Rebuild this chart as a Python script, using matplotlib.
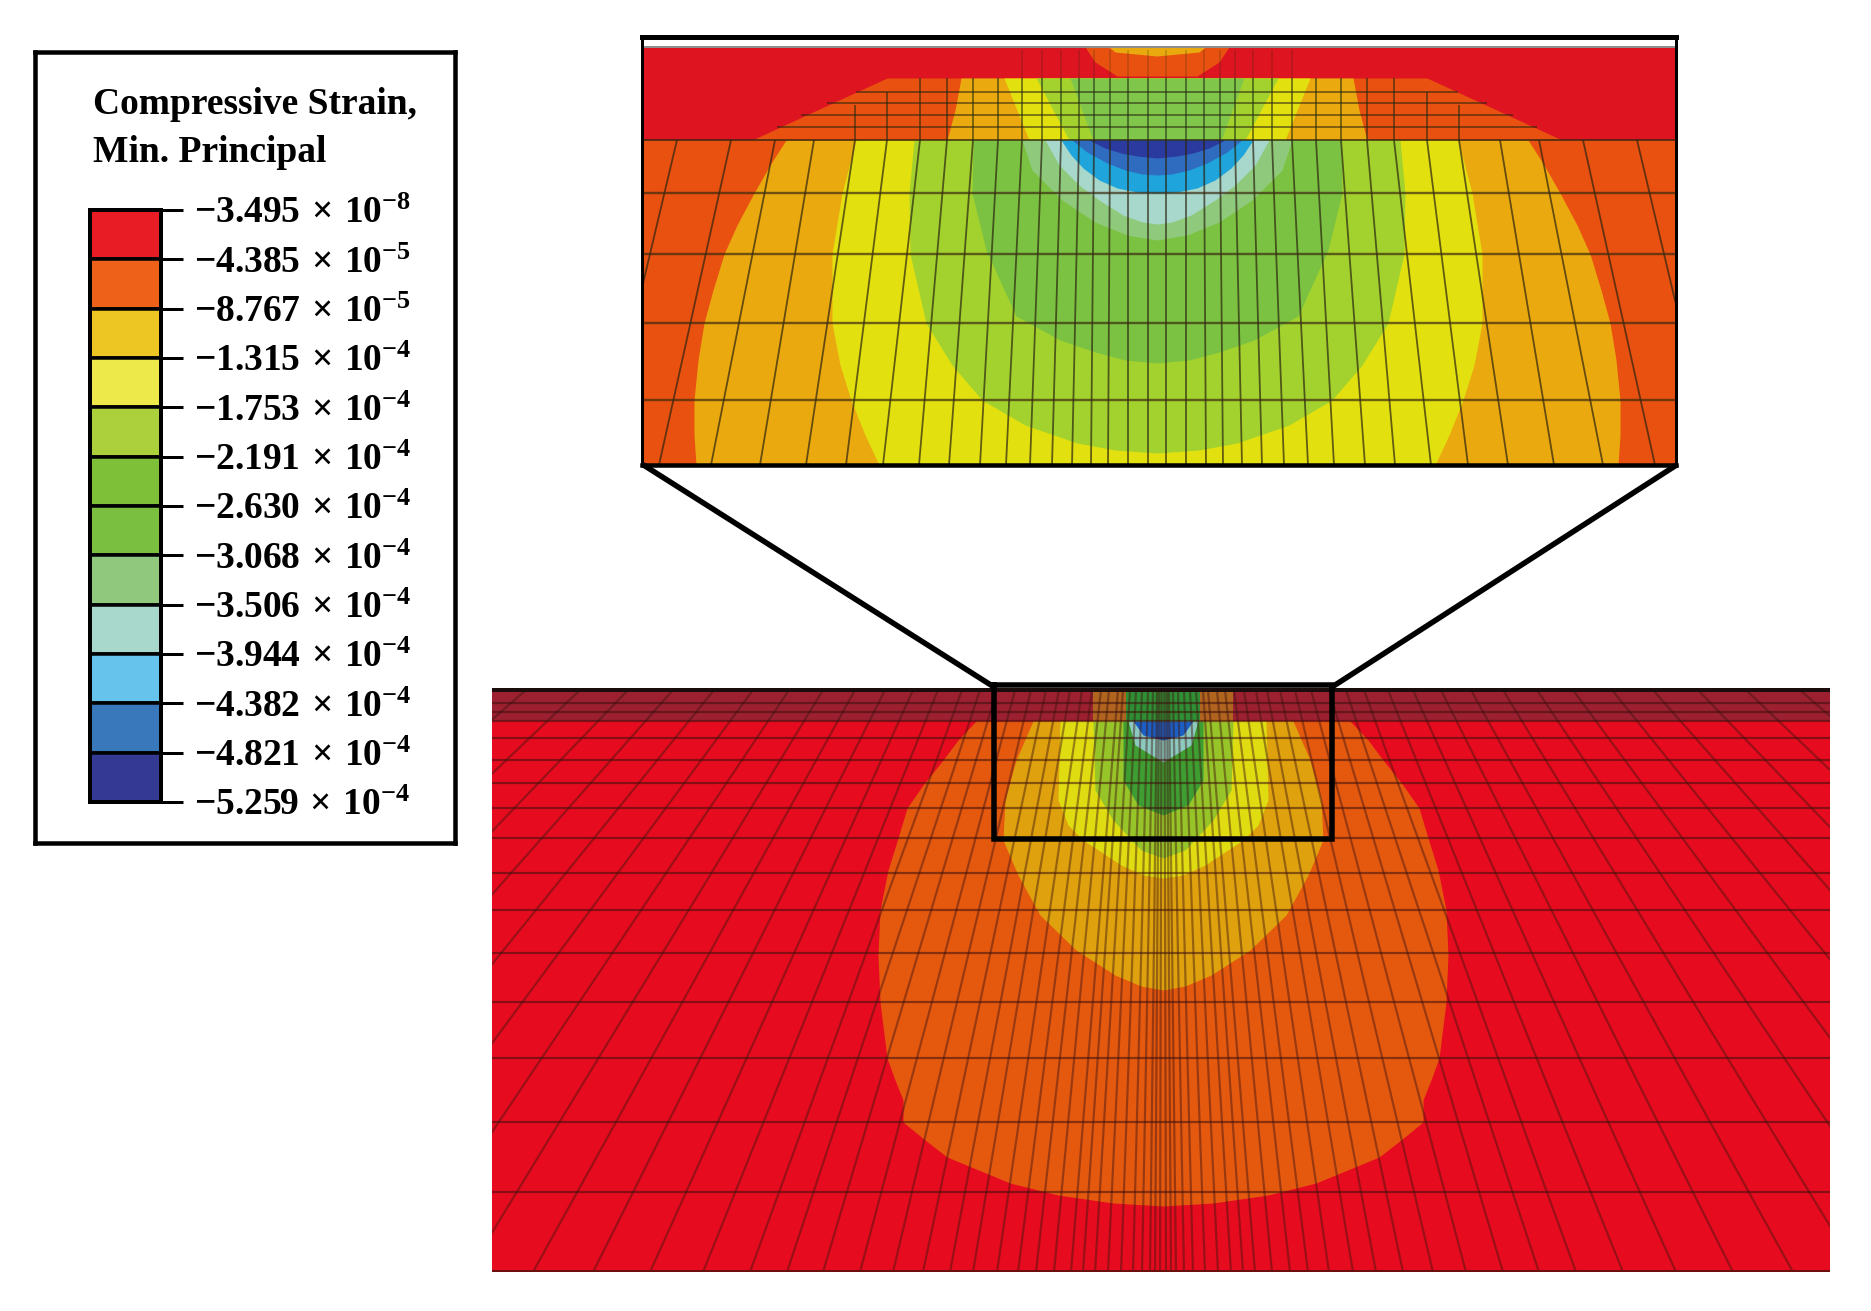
import matplotlib
matplotlib.use("Agg")
import matplotlib.pyplot as plt

W, H = 1871, 1311
plt.rcParams["font.family"] = ["Liberation Serif", "DejaVu Serif"]
plt.rcParams["mathtext.fontset"] = "custom"
plt.rcParams["mathtext.rm"] = "Liberation Serif:bold"
plt.rcParams["mathtext.bf"] = "Liberation Serif:bold"
plt.rcParams["mathtext.it"] = "Liberation Serif:bold"

# legend
title_lines = ["Compressive Strain,", "Min. Principal"]
mantissas = ["3.495", "4.385", "8.767", "1.315", "1.753", "2.191", "2.630",
             "3.068", "3.506", "3.944", "4.382", "4.821", "5.259"]
exponents = ["8", "5", "5", "4", "4", "4", "4", "4", "4", "4", "4", "4", "4"]
cell_colors = ["#e81c24", "#ee6118", "#eec624", "#eee94a", "#acd03c", "#7ec038",
               "#7abf40", "#90c97e", "#a8d8cc", "#66c4ec", "#3a78bc", "#343a94"]

# zoomed panel, contours as (depth, half width)
zoom_strip_bands = [
    ("#e8510f", [78, 140], [270, 405]),
    ("#eaa90f", [78, 110, 140], [196, 202, 210]),
    ("#e3e010", [78, 140], [153, 128]),
    ("#a3d22e", [78, 140], [121, 88]),
    ("#80c64a", [78, 140], [87, 64]),
]
zoom_cap_bands = [
    ("#e8510f", [47, 62, 76], [72, 62, 40]),
    ("#eaa90f", [47, 52, 56], [48, 42, 0]),
]
zoom_main_bands = [
    ("#eaa90f", [140, 165, 193, 225, 254, 290, 323, 360, 400, 435, 465],
     [371, 387, 403, 420, 433, 444, 453, 459, 463, 463, 461]),
    ("#e3e010", [140, 193, 254, 323, 365, 400, 435, 465],
     [301, 315, 325, 325, 317, 306, 292, 278]),
    ("#a3d22e", [140, 193, 254, 323, 365, 400, 425, 443, 450, 453],
     [243, 248, 247, 231, 205, 175, 132, 80, 42, 0]),
    ("#7cc242", [140, 193, 250, 316, 340, 352, 360, 363],
     [184, 185, 171, 141, 97, 62, 32, 0]),
]
zoom_blue_bands = [
    ("#8fca7c", [140, 170, 200, 222, 235, 240], [135, 125, 95, 62, 30, 0]),
    ("#a8d8cc", [140, 165, 185, 200, 215, 222, 224], [112, 98, 78, 58, 34, 15, 0]),
    ("#1fa5dc", [140, 155, 168, 180, 188, 192, 193], [96, 86, 74, 58, 40, 20, 0]),
    ("#2f6cc0", [140, 152, 163, 170, 174, 175], [85, 70, 50, 32, 15, 0]),
    ("#2a3a9e", [140, 148, 153, 156, 158], [68, 52, 36, 20, 0]),
]
zoom_lines_low = [557, 498, 446, 397, 351, 311, 274, 238, 208, 177, 151, 127, 105, 85, 66, 49, 29, 9]
zoom_lines_high = [480, 426, 382, 343, 302, 270, 237, 210, 184, 159, 135, 115, 96, 78, 63, 47, 29, 9]
zoom_main_rows = [193, 254, 323, 400]
zoom_strip_rows = [92, 103, 115, 127]
zoom_strip_row_half = [300, 329, 355, 379]
zoom_strip_cols = [302, 270, 237, 210, 184, 159, 135, 115, 96, 78, 63, 47, 29, 9]
zoom_strip_col_top = [105, 92, 78, 78, 78, 78, 50, 50, 50, 50, 50, 50, 50, 50]

# full panel, contours as (depth, half width)
full_bands = [
    ("#e5590f", [721, 740, 760, 785, 808, 838, 870, 910, 955, 1002, 1058, 1080, 1100, 1122, 1140, 1157, 1183, 1195, 1203, 1206],
     [187, 205, 220, 240, 256, 265, 275, 283, 285, 283, 276, 268, 260, 260, 238, 216, 153, 105, 50, 0]),
    ("#dfa20e", [721, 760, 800, 840, 875, 915, 950, 975, 986, 990], [130, 147, 158, 160, 145, 123, 87, 48, 22, 0]),
    ("#dfdc12", [721, 800, 825, 840, 865, 875, 878], [103, 105, 95, 80, 42, 20, 0]),
    ("#97c428", [721, 790, 820, 850, 858], [70, 68, 50, 22, 0]),
    ("#3f9e32", [721, 780, 805, 815], [40, 40, 25, 0]),
    ("#8ccac0", [721, 745, 762], [35, 28, 0]),
    ("#1c5fc4", [721, 735, 740], [30, 20, 0]),
]
full_top_bands = [
    ("#b0641e", [692, 721], [70, 70]),
    ("#2f8f35", [692, 721], [37, 37]),
]
full_rows = [703, 712, 721, 738, 760, 783, 808, 838, 873, 910, 953, 1002, 1058, 1122, 1192]
full_lines_low = [1305, 1195, 1095, 1005, 920, 840, 765, 695, 630, 570, 513, 460, 413, 376,
                  340, 303, 270, 240, 213, 190, 166, 145, 127, 109, 92, 80, 68, 55, 42, 30, 21, 13, 8, 3]
full_lines_high = [637, 583, 535, 490, 449, 410, 374, 340, 308, 278, 250, 225, 201, 183,
                   166, 148, 132, 117, 104, 93, 81, 71, 62, 54, 45, 40, 33, 27, 21, 15, 10, 6, 4, 1.5]

px = 0.72
fig = plt.figure(figsize=(W / 100, H / 100), dpi=100, facecolor="white")


def px_axes(x0, y0, x1, y1):
    ax = fig.add_axes([x0 / W, 1 - y1 / H, (x1 - x0) / W, (y1 - y0) / H])
    return ax


def fill_bands(ax, bands):
    for color, depth, half in bands:
        ax.fill_betweenx(depth, [-h for h in half], half, color=color, lw=0)


def mirrored(ax, low, high, y_low, y_high, color, lw, alpha):
    for a, b in zip(low, high):
        ax.plot([-a, -b], [y_low, y_high], color=color, lw=lw, alpha=alpha, solid_capstyle="butt")
        ax.plot([a, b], [y_low, y_high], color=color, lw=lw, alpha=alpha, solid_capstyle="butt")


# legend box
ax_box = px_axes(35, 52, 455, 843)
ax_box.set_xticks([])
ax_box.set_yticks([])
for s in ax_box.spines.values():
    s.set_linewidth(4.5 * px)
fig.text(93 / W, 1 - 114 / H, title_lines[0], fontsize=27, fontweight="bold", va="baseline")
fig.text(93 / W, 1 - 162 / H, title_lines[1], fontsize=27, fontweight="bold", va="baseline")

# colour bar
ax_cb = px_axes(90, 210, 161, 802)
ax_cb.bar([0] * 12, [1] * 12, width=1, bottom=range(12), color=cell_colors, edgecolor="black", linewidth=3.5 * px)
ax_cb.set_xlim(-0.5, 0.5)
ax_cb.set_ylim(12, 0)
ax_cb.set_xticks([])
ax_cb.yaxis.tick_right()
ax_cb.set_yticks(range(13))
ax_cb.set_yticklabels(
    [rf"$-\mathbf{{{m}}}\,\times\,\mathbf{{10}}^{{-\mathbf{{{e}}}}}$" for m, e in zip(mantissas, exponents)],
    fontsize=27)
ax_cb.tick_params(axis="y", length=22 * px, width=3 * px, pad=8)
for s in ax_cb.spines.values():
    s.set_linewidth(4 * px)

# zoomed panel
ax_z = px_axes(642, 37, 1676, 465)
ax_z.set_xlim(-515, 519)
ax_z.set_ylim(465, 37)
ax_z.axhspan(47, 140, color="#de1520", lw=0)
ax_z.axhspan(140, 465, color="#e8510f", lw=0)
fill_bands(ax_z, zoom_cap_bands)
fill_bands(ax_z, zoom_strip_bands)
fill_bands(ax_z, zoom_main_bands)
fill_bands(ax_z, zoom_blue_bands)
mirrored(ax_z, zoom_lines_low, zoom_lines_high, 465, 140, "#2b2410", 1.8 * px, 0.7)
for y in zoom_main_rows:
    ax_z.axhline(y, color="#3b2a10", lw=2.4 * px, alpha=0.7)
ax_z.axhline(140, color="#2b2410", lw=2 * px, alpha=0.7)
for y, half in zip(zoom_strip_rows, zoom_strip_row_half):
    ax_z.plot([-half, half], [y, y], color="#2b2410", lw=2 * px, alpha=0.55)
for off, top in zip(zoom_strip_cols, zoom_strip_col_top):
    if top > 60:
        mirrored(ax_z, [off], [off], 140, top, "#1f2a10", 1.8 * px, 0.6)
    else:
        mirrored(ax_z, [off], [off], 140, 78, "#1f2a10", 1.8 * px, 0.6)
        mirrored(ax_z, [off], [off], 78, top, "#1f2a10", 1.8 * px, 0.2)
ax_z.axhspan(37, 47, color="white", lw=0)
ax_z.axhline(47, color="#8f8f8f", lw=2 * px)
ax_z.set_xticks([])
ax_z.set_yticks([])
ax_z.spines["top"].set_linewidth(5 * px)
ax_z.spines["bottom"].set_linewidth(4.5 * px)
ax_z.spines["left"].set_linewidth(3 * px)
ax_z.spines["right"].set_linewidth(3 * px)

# full panel
ax_f = px_axes(492, 688, 1830, 1272)
ax_f.set_xlim(-671, 667)
ax_f.set_ylim(1272, 688)
ax_f.axhspan(688, 1272, color="#e60b1e", lw=0)
ax_f.axhspan(690, 721, color="#9c2030", lw=0)
fill_bands(ax_f, full_top_bands)
fill_bands(ax_f, full_bands)
mirrored(ax_f, full_lines_low, full_lines_high, 1272, 690, "#40140f", 2.2 * px, 0.45)
for y in full_rows:
    ax_f.axhline(y, color="#3a0f0c", lw=2.2 * px, alpha=0.55)
ax_f.axhline(690, color="#1c0d0d", lw=4 * px)
ax_f.axhline(1271, color="#6e0f0f", lw=3 * px)
ax_f.set_xticks([])
ax_f.set_yticks([])
for s in ax_f.spines.values():
    s.set_visible(False)

# callout box and connectors
ax_o = px_axes(0, 0, W, H)
ax_o.set_xlim(0, W)
ax_o.set_ylim(H, 0)
ax_o.patch.set_alpha(0)
ax_o.axis("off")
ax_o.plot([994, 994, 1332, 1332, 994], [685, 839, 839, 685, 685], color="black", lw=5.5 * px, solid_joinstyle="miter")
ax_o.plot([645, 994], [466, 687], color="black", lw=5.5 * px)
ax_o.plot([1675, 1332], [466, 687], color="black", lw=5.5 * px)

fig.savefig("out.png", dpi=100)
